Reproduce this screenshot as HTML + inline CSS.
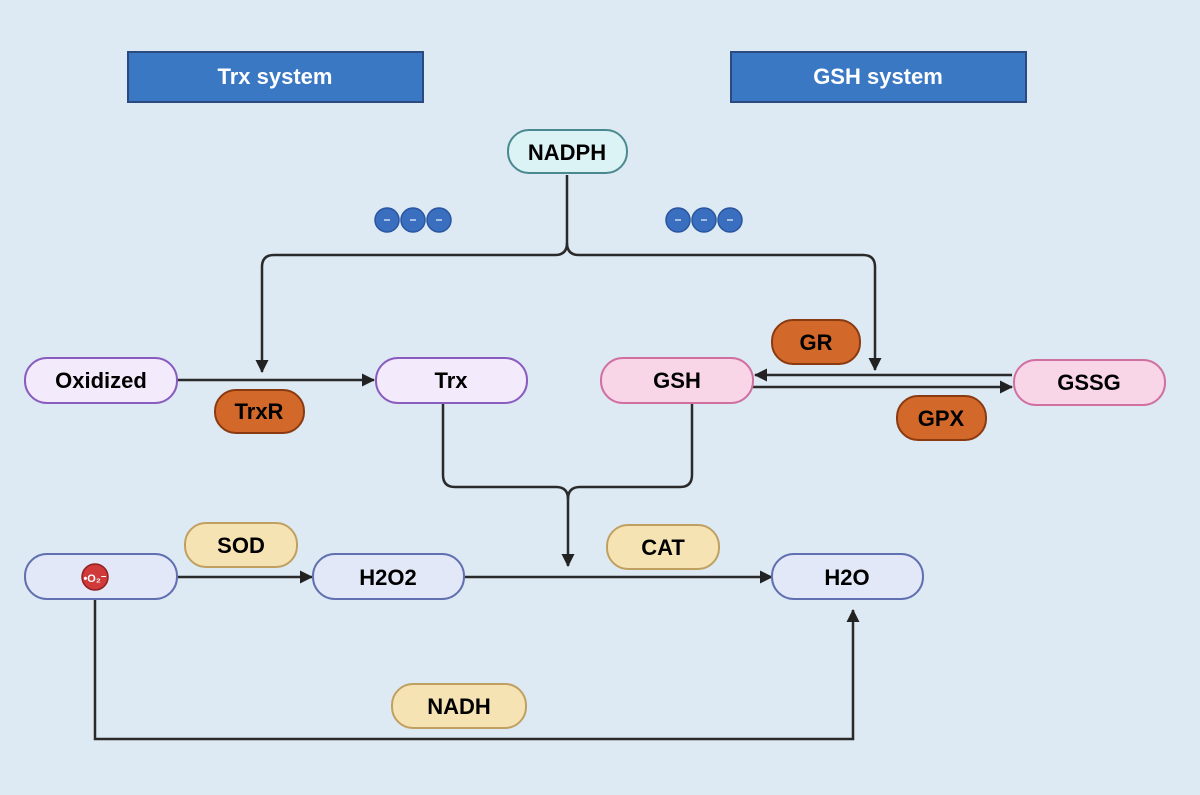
<!DOCTYPE html>
<html><head><style>body{margin:0;background:#dde9f3}</style></head><body>
<svg width="1200" height="790" xmlns="http://www.w3.org/2000/svg" font-family="Liberation Sans, sans-serif" font-weight="bold">
<defs><marker id="a" markerWidth="13" markerHeight="13" refX="12" refY="6.5" orient="auto" markerUnits="userSpaceOnUse"><path d="M0,0 L13,6.5 L0,13 z" fill="#222"/></marker></defs>
<rect width="1200" height="790" fill="#dde9f3"/>
<rect x="128" y="52" width="295" height="50" fill="#3b78c4" stroke="#2a4a80" stroke-width="2"/>
<text x="275" y="84" font-size="22" fill="#fff" text-anchor="middle">Trx system</text>
<rect x="731" y="52" width="295" height="50" fill="#3b78c4" stroke="#2a4a80" stroke-width="2"/>
<text x="878" y="84" font-size="22" fill="#fff" text-anchor="middle">GSH system</text>
<g fill="none" stroke="#2a2a2a" stroke-width="2.5">
<path d="M567,175 V243 Q567,255 555,255 H274 Q262,255 262,267 V372" marker-end="url(#a)"/>
<path d="M567,243 Q567,255 579,255 H863 Q875,255 875,267 V370" marker-end="url(#a)"/>
<path d="M177,380 H374" marker-end="url(#a)"/>
<path d="M1012,375 H755" marker-end="url(#a)"/>
<path d="M753,387 H1012" marker-end="url(#a)"/>
<path d="M443,403 V475 Q443,487 455,487 H556 Q568,487 568,499 V566" marker-end="url(#a)"/>
<path d="M692,403 V475 Q692,487 680,487 H580 Q568,487 568,499"/>
<path d="M177,577 H312" marker-end="url(#a)"/>
<path d="M464,577 H772" marker-end="url(#a)"/>
<path d="M95,599 V739 H853 V610" marker-end="url(#a)"/>
</g>
<rect x="508" y="130" width="119" height="43" rx="21" fill="#dcf3f6" stroke="#4a8a8f" stroke-width="2"/>
<text x="567" y="160" font-size="22" text-anchor="middle">NADPH</text>
<g fill="#3a6fc0" stroke="#2a55a0" stroke-width="1.5">
<circle cx="387" cy="220" r="12"/><circle cx="413" cy="220" r="12"/><circle cx="439" cy="220" r="12"/>
<circle cx="678" cy="220" r="12"/><circle cx="704" cy="220" r="12"/><circle cx="730" cy="220" r="12"/>
</g>
<g stroke="#c8d8f0" stroke-width="1.5">
<path d="M384,220h6M410,220h6M436,220h6M675,220h6M701,220h6M727,220h6"/>
</g>
<g font-size="22" text-anchor="middle">
<rect x="25" y="358" width="152" height="45" rx="22" fill="#f3eafb" stroke="#8a5cc0" stroke-width="2"/>
<text x="101" y="388">Oxidized</text>
<rect x="376" y="358" width="151" height="45" rx="22" fill="#f3eafb" stroke="#8a5cc0" stroke-width="2"/>
<text x="451" y="388">Trx</text>
<rect x="601" y="358" width="152" height="45" rx="22" fill="#f8d6e8" stroke="#d070a0" stroke-width="2"/>
<text x="677" y="388">GSH</text>
<rect x="1014" y="360" width="151" height="45" rx="22" fill="#f8d6e8" stroke="#d070a0" stroke-width="2"/>
<text x="1089" y="390">GSSG</text>
<rect x="215" y="390" width="89" height="43" rx="21" fill="#d2692a" stroke="#8a3a10" stroke-width="2"/>
<text x="259" y="419">TrxR</text>
<rect x="772" y="320" width="88" height="44" rx="21" fill="#d2692a" stroke="#8a3a10" stroke-width="2"/>
<text x="816" y="350">GR</text>
<rect x="897" y="396" width="89" height="44" rx="21" fill="#d2692a" stroke="#8a3a10" stroke-width="2"/>
<text x="941" y="426">GPX</text>
<rect x="25" y="554" width="152" height="45" rx="22" fill="#e3e8f8" stroke="#6070b0" stroke-width="2"/>
<rect x="313" y="554" width="151" height="45" rx="22" fill="#e3e8f8" stroke="#6070b0" stroke-width="2"/>
<text x="388" y="585">H2O2</text>
<rect x="772" y="554" width="151" height="45" rx="22" fill="#e3e8f8" stroke="#6070b0" stroke-width="2"/>
<text x="847" y="585">H2O</text>
<rect x="185" y="523" width="112" height="44" rx="21" fill="#f6e3b4" stroke="#c0a060" stroke-width="2"/>
<text x="241" y="553">SOD</text>
<rect x="607" y="525" width="112" height="44" rx="21" fill="#f6e3b4" stroke="#c0a060" stroke-width="2"/>
<text x="663" y="555">CAT</text>
<rect x="392" y="684" width="134" height="44" rx="21" fill="#f6e3b4" stroke="#c0a060" stroke-width="2"/>
<text x="459" y="714">NADH</text>
</g>
<circle cx="95" cy="577" r="13" fill="#d03a3a" stroke="#902020" stroke-width="1.5"/>
<text x="95" y="582" font-size="11" fill="#fff" text-anchor="middle">•O₂⁻</text>
</svg>
</body></html>
